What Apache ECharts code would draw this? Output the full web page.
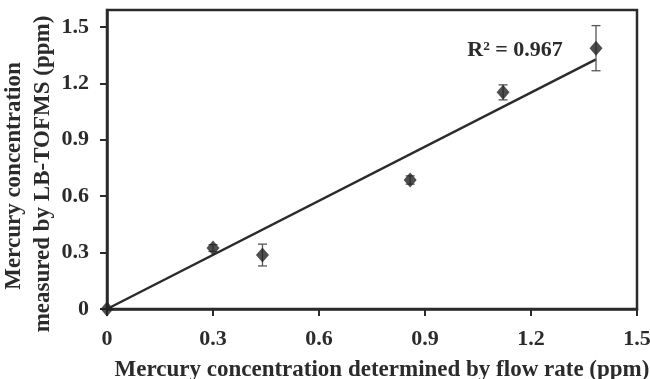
<!DOCTYPE html>
<html>
<head>
<meta charset="utf-8">
<script src="https://cdn.jsdelivr.net/npm/echarts@6/dist/echarts.min.js"></script>
<style>html,body{margin:0;padding:0;background:#fff;}#c{width:650px;height:379px;}</style>
</head>
<body>
<div id="c"></div>
<script>
// Data
var xVals = [0, 0.30, 0.44, 0.858, 1.121, 1.384];
var yVals = [0, 0.324, 0.287, 0.686, 1.152, 1.387];
var yErr  = [0, 0.018, 0.058, 0.022, 0.04, 0.12];
var trendX = [0, 1.384];
var trendY = [0, 1.327];
var xTicks = [0, 0.3, 0.6, 0.9, 1.2, 1.5];
var yTicks = [0, 0.3, 0.6, 0.9, 1.2, 1.5];
var r2Label = 'R\u00b2 = 0.967';
var xTitle = 'Mercury concentration determined by flow rate (ppm)';
var yTitle1 = 'Mercury concentration';
var yTitle2 = 'measured by LB-TOFMS (ppm)';

var FONT = '"Liberation Serif", "Times New Roman", serif';
var INK = '#2b2b2b';

var points = xVals.map(function (x, i) { return [x, yVals[i]]; });
var errData = xVals.map(function (x, i) { return [x, yVals[i] - yErr[i], yVals[i] + yErr[i]]; })
  .filter(function (d, i) { return yErr[i] > 0; });
var trend = trendX.map(function (x, i) { return [x, trendY[i]]; });

function fmt(v) { return v === 0 ? '0' : v.toFixed(1); }

var chart = echarts.init(document.getElementById('c'), null, { renderer: 'canvas' });
chart.setOption({
  animation: false,
  backgroundColor: '#fff',
  grid: { left: 107, right: 13, top: 10, bottom: 70, outerBoundsMode: 'none', containLabel: false,
          show: true, borderColor: INK, borderWidth: 2.5, backgroundColor: 'transparent' },
  xAxis: {
    type: 'value', min: 0, max: 1.5, interval: 0.3,
    splitLine: { show: false },
    axisLine: { lineStyle: { color: INK, width: 2.5 } },
    axisTick: { show: true, length: 7, lineStyle: { color: INK, width: 2 }, customValues: xTicks },
    axisLabel: { color: INK, fontFamily: FONT, fontWeight: 'bold', fontSize: 22, margin: 19, formatter: fmt, customValues: xTicks },
    name: xTitle, nameLocation: 'middle', nameGap: 50,
    nameTextStyle: { color: INK, fontFamily: FONT, fontWeight: 'bold', fontSize: 23, padding: [0, 0, 0, 20] }
  },
  yAxis: {
    type: 'value', min: 0, max: 1.59,
    splitLine: { show: false },
    axisLine: { lineStyle: { color: INK, width: 2.5 } },
    axisTick: { show: true, length: 7, lineStyle: { color: INK, width: 2 }, customValues: yTicks },
    axisLabel: { color: INK, fontFamily: FONT, fontWeight: 'bold', fontSize: 22, margin: 18, formatter: fmt, customValues: yTicks }
  },
  graphic: [
    { type: 'text', x: 26, y: 176, rotation: Math.PI / 2,
      style: { text: yTitle1, fill: INK, font: 'bold 23px ' + FONT, align: 'center', verticalAlign: 'bottom' } },
    { type: 'text', x: 55, y: 174, rotation: Math.PI / 2,
      style: { text: yTitle2, fill: INK, font: 'bold 23px ' + FONT, align: 'center', verticalAlign: 'bottom' } },
    { type: 'text', x: 515, y: 50,
      style: { text: r2Label, fill: INK, font: 'bold 22px ' + FONT, align: 'center', verticalAlign: 'middle' } }
  ],
  series: [
    {
      type: 'line', data: trend, symbol: 'none', z: 2,
      lineStyle: { color: INK, width: 2.5 }
    },
    {
      type: 'custom', z: 3,
      renderItem: function (params, api) {
        var x = api.value(0);
        var lo = api.coord([x, api.value(1)]);
        var hi = api.coord([x, api.value(2)]);
        var w = 4.5;
        var st = { stroke: '#555', lineWidth: 1.3 };
        return { type: 'group', children: [
          { type: 'line', shape: { x1: lo[0], y1: lo[1], x2: hi[0], y2: hi[1] }, style: st },
          { type: 'line', shape: { x1: lo[0] - w, y1: lo[1], x2: lo[0] + w, y2: lo[1] }, style: st },
          { type: 'line', shape: { x1: hi[0] - w, y1: hi[1], x2: hi[0] + w, y2: hi[1] }, style: st }
        ] };
      },
      encode: { x: 0, y: [1, 2] },
      data: errData
    },
    {
      type: 'scatter', data: points, symbol: 'diamond', symbolSize: [13, 15], clip: false, z: 4,
      itemStyle: { color: '#222' }
    }
  ]
});
</script>
</body>
</html>
